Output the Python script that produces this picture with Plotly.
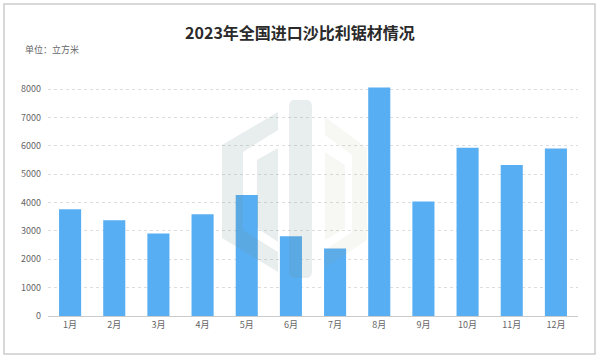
import plotly.graph_objects as go

months = ["1月", "2月", "3月", "4月", "5月", "6月", "7月", "8月", "9月", "10月", "11月", "12月"]
volumes = [3770, 3380, 2910, 3590, 4270, 2810, 2380, 8060, 4040, 5940, 5330, 5910]
y_ticks = [0, 1000, 2000, 3000, 4000, 5000, 6000, 7000, 8000]

W, H = 600, 360
L, R, T, B = 48, 22, 87, 44
PW, PH = W - L - R, H - T - B


def px(x):
    return (x - L) / PW


def py(y):
    return (H - B - y) / PH


def poly(pts):
    return "M " + " L ".join(f"{px(x):.4f},{py(y):.4f}" for x, y in pts) + " Z"


fig = go.Figure()
fig.add_trace(go.Bar(
    x=months, y=volumes,
    marker=dict(color="#58aef2", line=dict(width=0)),
    width=0.5,
    hoverinfo="x+y",
))

shapes = []
# border
shapes.append(dict(type="rect", xref="paper", yref="paper",
                   x0=px(4), x1=px(595), y0=py(354), y1=py(4),
                   line=dict(color="#cccccc", width=1.5), layer="below"))
# watermark (decorative)
wm = "rgba(110,140,140,0.16)"
wm2 = "rgba(150,150,120,0.08)"
shapes.append(dict(type="path", xref="paper", yref="paper", layer="above",
                   path=poly([(278, 112), (222, 145), (222, 238), (278, 272), (278, 252),
                              (243, 230), (243, 152), (278, 130)]),
                   fillcolor=wm, line=dict(width=0)))
shapes.append(dict(type="path", xref="paper", yref="paper", layer="above",
                   path=poly([(278, 148), (257, 160), (257, 228), (278, 242)]),
                   fillcolor=wm, line=dict(width=0)))
shapes.append(dict(type="path", xref="paper", yref="paper", layer="above",
                   path=poly([(289, 106), (290, 102), (293, 100), (308, 100), (311, 102), (312, 106),
                              (312, 272), (311, 276), (308, 278), (293, 278), (290, 276), (289, 272)]),
                   fillcolor=wm, line=dict(width=0)))
shapes.append(dict(type="path", xref="paper", yref="paper", layer="above",
                   path=poly([(325, 117), (367, 148), (367, 240), (325, 268), (325, 250),
                              (352, 232), (352, 155), (325, 135)]),
                   fillcolor=wm2, line=dict(width=0)))
shapes.append(dict(type="path", xref="paper", yref="paper", layer="above",
                   path=poly([(325, 152), (345, 165), (345, 228), (325, 240)]),
                   fillcolor=wm2, line=dict(width=0)))

fig.update_layout(
    width=W, height=H,
    margin=dict(l=L, r=R, t=T, b=B),
    paper_bgcolor="white", plot_bgcolor="white",
    font=dict(family="Noto Sans CJK SC, sans-serif", color="#666666", size=9),
    showlegend=False,
    title=dict(text="<b>2023年全国进口沙比利锯材情况</b>", x=0.5, xanchor="center",
               y=1 - 33 / H, yanchor="middle",
               font=dict(size=16, color="#2a2a2a", family="Noto Sans CJK SC, sans-serif")),
    annotations=[dict(text="单位：立方米", xref="paper", yref="paper",
                      x=px(23), y=py(50), xanchor="left", yanchor="middle",
                      showarrow=False, font=dict(size=9, color="#666666"))],
    shapes=shapes,
    bargap=0.5,
    xaxis=dict(showgrid=False, showline=True, linecolor="#cccccc", linewidth=1,
               ticks="", tickfont=dict(size=9, color="#666666")),
    yaxis=dict(range=[0, 8080], tickvals=y_ticks, showgrid=True, gridcolor="#dddddd",
               griddash="3px,3px", gridwidth=1, zeroline=False, showline=False,
               ticks="", tickfont=dict(size=9, color="#666666"), ticklabelstandoff=6),
)

fig.write_html("out.html", post_script="document.body.style.margin='0';",
               config={"displayModeBar": False})
